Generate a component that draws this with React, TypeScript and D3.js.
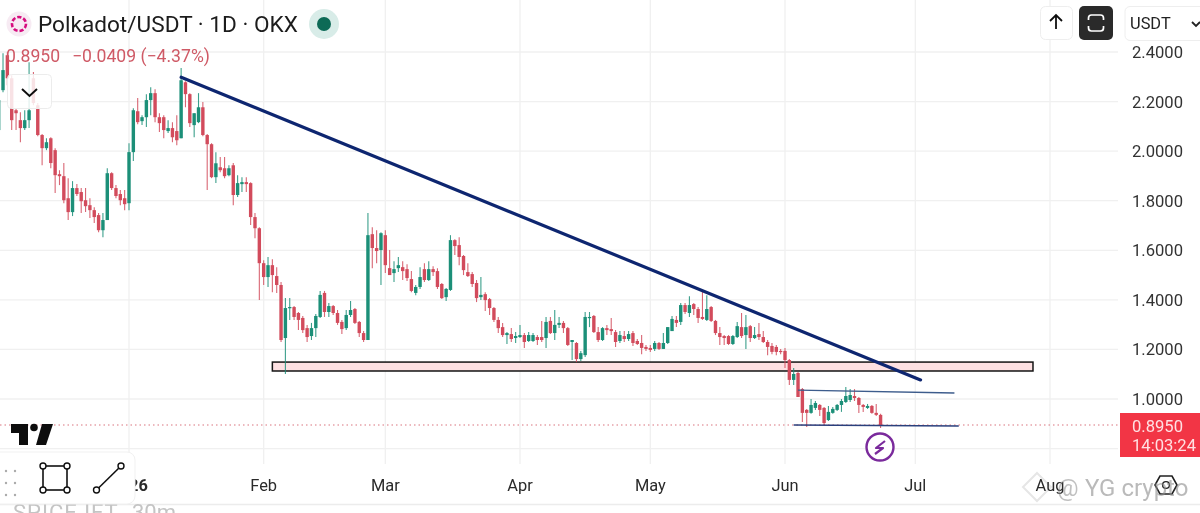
import React from "react";
import * as d3 from "d3";

const firstCandleDay = "2025-12-02";
const opens = [2.085,2.246,2.387,2.294,2.165,2.125,2.093,2.125,2.294,2.185,2.065,2.012,2.052,2.004,1.907,1.899,1.81,1.754,1.851,1.835,1.802,1.782,1.762,1.742,1.681,1.722,1.911,1.851,1.827,1.81,
1.79,1.996,2.161,2.121,2.137,2.206,2.234,2.137,2.137,2.081,2.093,2.081,2.052,2.278,2.23,2.105,2.117,2.177,2.065,2.028,1.895,1.935,1.931,1.903,1.943,1.823,1.867,1.875,1.871,1.734,1.689,
1.548,1.492,1.54,1.496,1.46,1.246,1.367,1.371,1.347,1.327,1.286,1.254,1.286,1.331,1.428,1.351,1.375,1.347,1.311,1.286,1.339,1.363,1.311,1.266,1.238,1.665,1.609,1.601,
1.661,1.528,1.508,1.528,1.532,1.524,1.484,1.428,1.452,1.524,1.48,1.524,1.516,1.464,1.411,1.44,1.641,1.621,1.577,1.512,1.504,1.468,1.411,1.423,1.403,1.367,1.319,1.29,1.258,1.262,1.246,
1.25,1.258,1.234,1.234,1.25,1.25,1.246,1.315,1.266,1.299,1.307,1.286,1.23,1.226,1.161,1.177,1.327,1.335,1.27,1.238,1.286,1.282,1.27,1.234,1.254,1.242,1.266,1.234,1.226,1.21,
1.206,1.202,1.226,1.202,1.226,1.274,1.319,1.311,1.379,1.347,1.383,1.363,1.331,1.319,1.371,1.315,1.266,1.254,1.254,1.222,1.25,1.29,1.258,1.294,1.246,1.262,1.25,1.23,1.214,1.21,1.194,
1.194,1.157,1.077,1.105,1.04,0.956,0.944,0.964,0.976,0.964,0.915,0.944,0.956,0.976,0.988,0.996,1.012,1.004,0.976,0.964,0.972,0.944,0.9359];
const highs = [2.226,2.395,2.399,2.306,2.173,2.157,2.165,2.359,2.319,2.194,2.069,2.052,2.056,2.012,1.923,1.952,1.891,1.879,1.867,1.851,1.851,1.81,1.774,1.75,1.75,1.931,1.915,1.863,1.843,1.843,
2.032,2.173,2.214,2.145,2.23,2.258,2.25,2.153,2.145,2.125,2.117,2.145,2.335,2.282,2.234,2.153,2.234,2.198,2.069,2.032,1.996,1.976,1.976,1.943,1.952,1.903,1.895,1.895,1.875,1.75,1.693,
1.56,1.573,1.564,1.532,1.472,1.407,1.407,1.375,1.351,1.335,1.299,1.307,1.343,1.436,1.436,1.387,1.379,1.359,1.319,1.359,1.395,1.367,1.315,1.274,1.75,1.693,1.681,1.673,
1.681,1.601,1.556,1.573,1.556,1.544,1.516,1.46,1.532,1.548,1.556,1.536,1.528,1.468,1.448,1.661,1.645,1.653,1.581,1.548,1.512,1.48,1.492,1.431,1.407,1.371,1.331,1.307,1.27,1.286,1.27,
1.299,1.266,1.27,1.266,1.258,1.315,1.331,1.331,1.359,1.331,1.315,1.29,1.238,1.23,1.194,1.351,1.351,1.339,1.29,1.29,1.299,1.327,1.278,1.274,1.274,1.274,1.274,1.242,1.258,1.218,
1.218,1.234,1.23,1.266,1.29,1.335,1.335,1.387,1.387,1.415,1.387,1.371,1.44,1.419,1.375,1.319,1.29,1.258,1.258,1.258,1.311,1.347,1.339,1.299,1.29,1.307,1.274,1.238,1.226,1.218,1.202,
1.206,1.161,1.125,1.109,1.044,0.96,1.0,0.992,0.98,0.968,0.972,0.968,0.98,1.0,1.048,1.04,1.04,1.008,0.98,0.98,0.976,0.98,0.94];
const lows = [2.04,2.238,2.266,2.085,2.085,2.036,2.085,2.093,2.185,2.06,1.943,2.004,1.931,1.831,1.863,1.79,1.722,1.738,1.819,1.75,1.754,1.73,1.71,1.673,1.653,1.722,1.843,1.81,1.782,1.762,
1.762,1.96,2.109,2.105,2.097,2.145,2.117,2.077,2.052,2.073,2.036,2.024,2.052,2.177,2.097,2.056,2.113,2.06,1.843,1.891,1.871,1.915,1.891,1.899,1.782,1.815,1.835,1.835,1.702,1.649,1.399,
1.46,1.452,1.431,1.428,1.23,1.101,1.319,1.319,1.278,1.266,1.23,1.238,1.25,1.327,1.331,1.331,1.339,1.299,1.262,1.278,1.331,1.303,1.25,1.23,1.238,1.528,1.548,1.46,
1.508,1.5,1.472,1.512,1.48,1.476,1.431,1.419,1.444,1.472,1.476,1.496,1.444,1.403,1.395,1.436,1.581,1.54,1.5,1.492,1.452,1.391,1.399,1.355,1.339,1.311,1.266,1.25,1.222,1.23,1.226,
1.246,1.206,1.23,1.23,1.218,1.23,1.206,1.262,1.238,1.286,1.266,1.214,1.157,1.149,1.153,1.169,1.29,1.266,1.23,1.234,1.258,1.258,1.21,1.226,1.23,1.234,1.214,1.218,1.181,1.194,
1.19,1.194,1.198,1.202,1.222,1.274,1.29,1.299,1.343,1.331,1.339,1.307,1.319,1.315,1.311,1.258,1.218,1.218,1.218,1.218,1.246,1.246,1.202,1.23,1.242,1.238,1.226,1.177,1.181,1.177,1.181,
1.125,1.056,1.056,1.008,0.907,0.887,0.94,0.956,0.931,0.895,0.911,0.94,0.952,0.948,0.984,0.988,0.992,0.944,0.948,0.96,0.94,0.931,0.883];
const closes = [2.206,2.327,2.294,2.125,2.153,2.093,2.125,2.165,2.194,2.065,2.012,2.036,1.952,1.903,1.899,1.802,1.754,1.851,1.827,1.798,1.778,1.762,1.734,1.681,1.722,1.911,1.851,1.819,1.802,1.786,
1.996,2.165,2.117,2.137,2.206,2.234,2.137,2.113,2.085,2.093,2.056,2.044,2.286,2.23,2.113,2.153,2.177,2.065,2.028,1.895,1.951,1.923,1.899,1.931,1.823,1.871,1.875,1.867,1.734,1.689,1.548,
1.492,1.54,1.5,1.46,1.238,1.367,1.371,1.331,1.319,1.278,1.25,1.286,1.335,1.42,1.351,1.375,1.347,1.307,1.282,1.339,1.359,1.307,1.266,1.238,1.661,1.609,1.597,1.669,
1.54,1.5,1.524,1.54,1.516,1.488,1.436,1.452,1.492,1.48,1.524,1.512,1.452,1.407,1.444,1.641,1.617,1.573,1.52,1.496,1.464,1.407,1.42,1.399,1.367,1.319,1.286,1.258,1.266,1.242,1.254,
1.258,1.23,1.258,1.258,1.238,1.238,1.311,1.266,1.299,1.307,1.286,1.218,1.238,1.161,1.185,1.331,1.331,1.27,1.238,1.286,1.278,1.274,1.23,1.258,1.242,1.262,1.226,1.222,1.206,1.202,
1.198,1.226,1.202,1.226,1.29,1.323,1.307,1.379,1.351,1.379,1.363,1.327,1.323,1.363,1.315,1.266,1.25,1.246,1.222,1.254,1.294,1.254,1.29,1.246,1.258,1.25,1.23,1.21,1.19,1.19,1.19,
1.157,1.077,1.101,1.008,0.944,0.944,0.976,0.984,0.956,0.903,0.948,0.96,0.976,0.992,1.012,1.016,1.004,0.976,0.968,0.972,0.944,0.936,0.895];

const priceTicks = [2.4, 2.2, 2.0, 1.8, 1.6, 1.4, 1.2, 1.0];
const gridPrices = [2.4, 2.2, 2.0, 1.8, 1.6, 1.4, 1.2, 1.0, 0.8];
const monthDates = ["2026-01-01","2026-02-01","2026-03-01","2026-04-01","2026-05-01","2026-06-01","2026-07-01","2026-08-01"];
const monthLabels = ["2026","Feb","Mar","Apr","May","Jun","Jul","Aug"];

const trendDates = ["2026-01-13","2026-07-02T04:48:00"];
const trendPrices = [2.298, 1.077];
const zoneDates = ["2026-02-03T00:00:00","2026-07-28T02:00:00"];
const zonePrices = [1.149, 1.113];
const upperDates = ["2026-06-04","2026-07-10"];
const upperPrices = [1.036, 1.024];
const lowerDates = ["2026-06-03","2026-07-11"];
const lowerPrices = [0.895, 0.891];
const lastPrice = 0.895;

const parse = (s: string) => new Date(s.length > 10 ? s + "Z" : s + "T00:00:00Z");
const x = d3.scaleUtc().domain([parse("2026-01-01"), parse("2026-08-01")]).range([129, 1050]);
const y = d3.scaleLinear().domain([1.0, 2.4]).range([399, 52]);
const start = parse(firstCandleDay);
const candleDates = opens.map((_, i) => d3.utcDay.offset(start, i));

const GREEN = "#1a8f78";
const RED = "#d24c5c";
const NAVY = "#0f2570";
const FONT = "Roboto, 'Open Sans', sans-serif";

export default function App() {
  const line = d3.line<[number, number]>().x((d) => d[0]).y((d) => d[1]);
  const seg = (ds: string[], ps: number[]) =>
    line(ds.map((d, i) => [x(parse(d)), y(ps[i])] as [number, number])) as string;
  const ly = y(lastPrice);
  return (
    <svg width={1200} height={513} viewBox="0 0 1200 513"
      style={{ position: "fixed", left: 0, top: 0, background: "#fff", fontFamily: FONT }}>
      <defs>
        <filter id="soft" x="0" y="0" width="100%" height="100%">
          <feGaussianBlur stdDeviation={0.42} />
        </filter>
      </defs>
      <g filter="url(#soft)">
        <rect x={0} y={0} width={1200} height={513} fill="#fff" />
        {/* grid */}
        {gridPrices.map((p) => (
          <line key={p} x1={0} x2={1118} y1={y(p)} y2={y(p)} stroke="#f0f0f0" strokeWidth={1.3} />
        ))}
        {monthDates.map((d) => (
          <line key={d} x1={x(parse(d))} x2={x(parse(d))} y1={0} y2={464} stroke="#f0f0f0" strokeWidth={1.3} />
        ))}
        <line x1={0} x2={1200} y1={504.5} y2={504.5} stroke="#ececec" strokeWidth={1.5} />

        {/* zone */}
        <rect x={x(parse(zoneDates[0]))} y={y(zonePrices[0])}
          width={x(parse(zoneDates[1])) - x(parse(zoneDates[0]))} height={y(zonePrices[1]) - y(zonePrices[0])}
          fill="#fde0e2" stroke="#141414" strokeWidth={1.5} />

        {/* last price line */}
        <line x1={0} x2={1120} y1={ly} y2={ly} stroke="#d9747f" strokeWidth={1.1} strokeDasharray="1.5 3" />

        {/* candles */}
        {candleDates.map((d, i) => {
          const up = closes[i] >= opens[i];
          const c = up ? GREEN : RED;
          const cx = x(d);
          const top = y(Math.max(opens[i], closes[i]));
          const bot = y(Math.min(opens[i], closes[i]));
          return (
            <g key={i}>
              <line x1={cx} x2={cx} y1={y(highs[i])} y2={y(lows[i])} stroke={c} strokeWidth={1.1} opacity={0.85} />
              <rect x={cx - 1.7} width={3.4} y={top} height={Math.max(bot - top, 1.2)} fill={c} />
            </g>
          );
        })}

        {/* drawings */}
        <path d={seg(trendDates, trendPrices)} stroke={NAVY} strokeWidth={3.2} fill="none" strokeLinecap="round" />
        <path d={seg(upperDates, upperPrices)} stroke="#3d5c8c" strokeWidth={1.4} fill="none" />
        <path d={seg(lowerDates, lowerPrices)} stroke="#2a3f7c" strokeWidth={1.4} fill="none" />

        {/* header */}
        <circle cx={19} cy={24} r={12.5} fill="#f7ebf3" />
        <circle cx={19} cy={24} r={7} fill="none" stroke="#d6107f" strokeWidth={2.6} strokeDasharray="4.2 2" />
        <text x={38} y={31.5} fontSize={22.6} fill="#1c1c1c">Polkadot/USDT · 1D · OKX</text>
        <circle cx={324} cy={24} r={15} fill="#d8ece8" />
        <circle cx={324} cy={24} r={7} fill="#0e6a57" />
        <text x={6} y={62} fontSize={17.6} fill="#cf5a66">0.8950</text>
        <text x={72} y={62} fontSize={17.6} fill="#cf5a66">−0.0409 (−4.37%)</text>

        {/* collapse button */}
        <rect x={7.5} y={74.5} width={44} height={34} rx={4} fill="#fff" fillOpacity={0.84} stroke="#ececec" />
        <path d="M22 89 L29.5 96 L37 89" fill="none" stroke="#111" strokeWidth={2} />

        {/* top-right buttons */}
        <rect x={1040.5} y={6.5} width={32} height={33} rx={5} fill="#fff" stroke="#eee" />
        <path d="M1056 29 V15 M1050 21 L1056 15 L1062 21" fill="none" stroke="#111" strokeWidth={1.8} />
        <rect x={1079} y={6} width={34} height={34} rx={5} fill="#2a2a2a" />
        <path d="M1088.5 20 V18 Q1088.5 15 1091.5 15 H1100.5 Q1103.5 15 1103.5 18 V20 M1088.5 26 V28 Q1088.5 31 1091.5 31 H1100.5 Q1103.5 31 1103.5 28 V26"
          fill="none" stroke="#fff" strokeWidth={1.7} />
        <rect x={1125} y={6.5} width={90} height={34} rx={5} fill="#fff" stroke="#eee" />
        <text x={1130} y={29} fontSize={16.4} fill="#222">USDT</text>
        <path d="M1192 22 L1196 26 L1200 22" fill="none" stroke="#222" strokeWidth={1.8} />

        {/* price axis */}
        {priceTicks.map((p) => (
          <text key={p} x={1132} y={y(p) + 6} fontSize={16.6} fill="#333">{p.toFixed(4)}</text>
        ))}
        <rect x={1120} y={413} width={80} height={44} fill="#f23645" />
        <text x={1132} y={431.5} fontSize={16.6} fill="#ffe0e3">0.8950</text>
        <text x={1132} y={451} fontSize={16.6} fill="#ffe0e3">14:03:24</text>

        {/* TradingView mark */}
        <path d="M11 424 H28 V445 H19 V433 H11 Z M42 424 H53 L46 445 H36 Z" fill="#111" />
        <circle cx={34} cy={427.5} r={3.8} fill="#111" />

        {/* watermark diamond sits under the axis text */}
        <path d="M1037 473 L1051 487 L1037 501 L1023 487 Z" fill="#fff" fillOpacity={0.4} stroke="#e6e6e6" strokeWidth={2} />

        {/* time axis */}
        {monthDates.map((d, i) => (
          <text key={d} x={x(parse(d))} y={491} textAnchor="middle" fontSize={16.4}
            fontWeight={i === 0 ? 700 : 400} fill="#2a2a2a">{monthLabels[i]}</text>
        ))}

        {/* toolbar */}
        <text x={13} y={520} fontSize={22} fill="#c4c4c4" letterSpacing={1}>SPICEJET</text>
        <text x={132} y={520} fontSize={22} fill="#c4c4c4">30m</text>
        <rect x={-12} y={452} width={147} height={52} rx={8} fill="#fff" stroke="#f1f1f1" />
        {[6, 15].flatMap((gx) => [471, 483, 495].map((gy) => (
          <circle key={gx + "-" + gy} cx={gx} cy={gy} r={1.2} fill="#aaa" />
        )))}
        <rect x={43} y={466} width={24} height={24} fill="none" stroke="#111" strokeWidth={1.6} />
        {[[43, 466], [67, 466], [43, 490], [67, 490]].map(([a, b]) => (
          <circle key={a + "," + b} cx={a} cy={b} r={3} fill="#fff" stroke="#111" strokeWidth={1.4} />
        ))}
        <line x1={96.5} y1={490} x2={121} y2={466} stroke="#111" strokeWidth={1.6} />
        <circle cx={96.5} cy={490} r={3} fill="#fff" stroke="#111" strokeWidth={1.4} />
        <circle cx={121} cy={466} r={3} fill="#fff" stroke="#111" strokeWidth={1.4} />

        {/* lightning badge */}
        <circle cx={880} cy={447} r={13.5} fill="#fff" stroke="#7a2a9c" strokeWidth={2.4} />
        <path d="M885 441 L876 448 H883 L875 454" fill="none" stroke="#7a2a9c" strokeWidth={2.2} strokeLinejoin="round" />

        {/* hexagon help icon */}
        <path d="M1160 476 H1172 L1177 485 L1172 494 H1160 L1155 485 Z" fill="#fff" stroke="#222" strokeWidth={1.6} />
        <circle cx={1166} cy={485} r={3.4} fill="none" stroke="#222" strokeWidth={1.4} />

        {/* watermark */}
        <text x={1057} y={496} fontSize={24} fill="#8c8c8c" fillOpacity={0.55}>@</text>
        <text x={1085} y={496} fontSize={24} fill="#8c8c8c" fillOpacity={0.6}>YG crypto</text>
      </g>
    </svg>
  );
}
